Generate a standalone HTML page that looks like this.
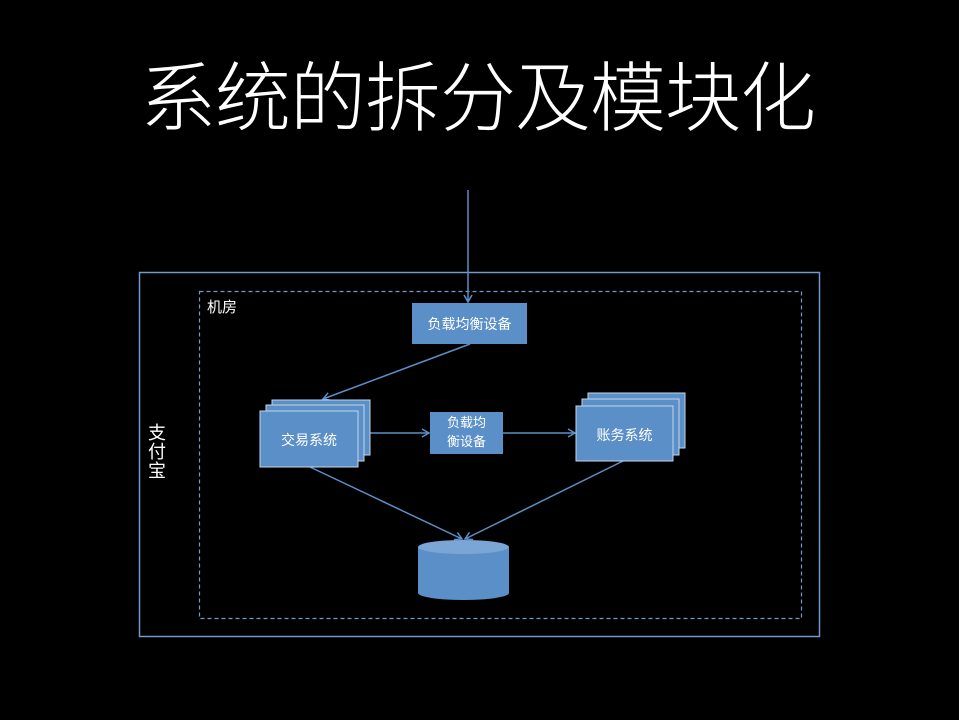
<!DOCTYPE html>
<html><head><meta charset="utf-8"><style>
html,body{margin:0;padding:0;background:#000;width:959px;height:720px;overflow:hidden}
body{position:relative;font-family:"Liberation Sans","Noto Sans CJK SC",sans-serif;color:#fff}
.title{position:absolute;left:140px;top:52px;font-size:76px;font-weight:300;letter-spacing:-1px;line-height:96px;white-space:nowrap}
.lbl{position:absolute;white-space:nowrap}
</style></head><body>
<div class="title">系统的拆分及模块化</div>
<svg width="959" height="720" style="position:absolute;left:0;top:0">
<defs><marker id="a" markerWidth="10" markerHeight="10" refX="8" refY="5" orient="auto" markerUnits="userSpaceOnUse"><path d="M1,1 L8,5 L1,9" fill="none" stroke="#5b8fc8" stroke-width="1.5"/></marker></defs>
<rect x="139.5" y="272.5" width="680" height="364" fill="none" stroke="#6f9acb" stroke-width="1.5"/>
<rect x="199.5" y="291.5" width="602" height="327" fill="none" stroke="#6f9acb" stroke-width="1.2" stroke-dasharray="4,3"/>
<g stroke="#5b8fc8" stroke-width="1.5" fill="none" marker-end="url(#a)">
<line x1="468" y1="190" x2="468" y2="302"/>
<line x1="470" y1="344" x2="323" y2="399"/>
<line x1="370" y1="433" x2="429" y2="433"/>
<line x1="503" y1="433" x2="575" y2="433"/>
<line x1="310" y1="467" x2="462" y2="539"/>
<line x1="623" y1="461" x2="465" y2="539"/>
</g>
<g fill="#5b8fc8" stroke="#c5d6ea" stroke-width="1">
<rect x="412" y="303" width="115" height="41" stroke="none"/>
<rect x="272" y="400" width="98" height="55"/>
<rect x="266" y="405" width="98" height="56"/>
<rect x="260" y="411" width="98" height="56"/>
<rect x="430" y="412" width="73" height="42" stroke="none"/>
<rect x="588" y="393" width="97" height="55"/>
<rect x="582" y="399" width="97" height="56"/>
<rect x="576" y="406" width="97" height="55"/>
</g>
<path d="M418,547 L418,593 A45.5,7 0 0 0 509,593 L509,547" fill="#5b8fc8"/>
<ellipse cx="463.5" cy="547" rx="45.5" ry="7" fill="#7aa5d4"/>
</svg>
<div class="lbl" style="left:412px;top:314px;width:115px;text-align:center;font-size:14px">负载均衡设备</div>
<div class="lbl" style="left:260px;top:430px;width:98px;text-align:center;font-size:14px">交易系统</div>
<div class="lbl" style="left:430px;top:413px;width:73px;text-align:center;font-size:13px;line-height:19px;white-space:normal">负载均<br>衡设备</div>
<div class="lbl" style="left:576px;top:425px;width:97px;text-align:center;font-size:14px">账务系统</div>
<div class="lbl" style="left:207px;top:296px;font-size:15px">机房</div>
<div class="lbl" style="left:148px;top:424px;font-size:18px;line-height:19px;width:20px;white-space:normal">支付宝</div>
</body></html>
